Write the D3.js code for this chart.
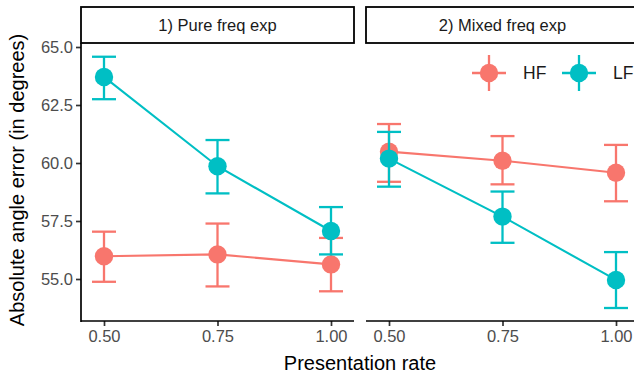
<!DOCTYPE html>
<html>
<head>
<meta charset="utf-8">
<script src="https://cdn.jsdelivr.net/npm/d3@7/dist/d3.min.js"></script>
<style>
  body { margin: 0; background: #fff; }
  text { font-family: "Liberation Sans", Arial, sans-serif; }
</style>
</head>
<body>
<div id="chart"></div>
<script>
// data
const panels = ["1) Pure freq exp", "2) Mixed freq exp"];
const rates = [0.5, 0.75, 1.0];
const groups = ["HF", "LF"];
const yTicks = [55.0, 57.5, 60.0, 62.5, 65.0];

// means and error bars per panel, per group
const pureHF = [55.98, 56.06, 55.63];
const pureHFlo = [54.88, 54.68, 54.47];
const pureHFhi = [57.04, 57.39, 56.77];
const pureLF = [63.71, 59.86, 57.07];
const pureLFlo = [62.75, 58.69, 56.06];
const pureLFhi = [64.58, 60.99, 58.10];

const mixHF = [60.49, 60.10, 59.58];
const mixHFlo = [59.19, 59.08, 58.35];
const mixHFhi = [61.68, 61.16, 60.78];
const mixLF = [60.19, 57.69, 54.96];
const mixLFlo = [58.98, 56.56, 53.75];
const mixLFhi = [61.34, 58.77, 56.16];

const colors = { HF: "#F8766D", LF: "#00BFC4" };

function rows(means, lo, hi) {
  return rates.map((r, i) => ({ x: r, y: means[i], lo: lo[i], hi: hi[i] }));
}
const panelData = [
  { HF: rows(pureHF, pureHFlo, pureHFhi), LF: rows(pureLF, pureLFlo, pureLFhi) },
  { HF: rows(mixHF, mixHFlo, mixHFhi), LF: rows(mixLF, mixLFlo, mixLFhi) }
];

const W = 634, H = 376;
const panelLeft = [81, 366];
const panelW = 273;
const panelTop = 43, panelBottom = 321;

const svg = d3.select("#chart").append("svg")
  .attr("width", W).attr("height", H);

const y = d3.scaleLinear().domain([55, 65]).range([279, 47]);
const x = d3.scaleLinear().domain([0.5, 1]).range([23, 250]);

// y axis (left panel only)
const yAxis = svg.append("g")
  .attr("transform", `translate(${panelLeft[0]},0)`)
  .call(d3.axisLeft(y).tickValues(yTicks).tickFormat(d3.format(".1f")).tickSize(5).tickPadding(3));
yAxis.select(".domain").remove();
yAxis.append("line").attr("x1", 0).attr("x2", 0)
  .attr("y1", panelTop).attr("y2", panelBottom + 1)
  .attr("stroke", "#000").attr("stroke-width", 1.7);
yAxis.selectAll(".tick line").attr("stroke", "#333").attr("stroke-width", 1.7);
yAxis.selectAll(".tick text").attr("fill", "#4D4D4D").style("font-size", "16.5px");

panels.forEach((name, pi) => {
  const g = svg.append("g").attr("transform", `translate(${panelLeft[pi]},0)`);

  // strip
  g.append("rect").attr("x", 0).attr("y", 7).attr("width", panelW).attr("height", 36)
    .attr("fill", "#fff").attr("stroke", "#000").attr("stroke-width", 1.8);
  g.append("text").attr("x", panelW / 2).attr("y", 31)
    .attr("text-anchor", "middle").attr("fill", "#1A1A1A")
    .style("font-size", "16.5px").text(name);

  // x axis
  const xa = g.append("g").attr("transform", `translate(0,${panelBottom})`)
    .call(d3.axisBottom(x).tickValues(rates).tickFormat(d3.format(".2f")).tickSize(5).tickPadding(4));
  xa.select(".domain").remove();
  xa.append("line").attr("x1", 0).attr("x2", panelW).attr("y1", 0).attr("y2", 0)
    .attr("stroke", "#000").attr("stroke-width", 1.7);
  xa.selectAll(".tick line").attr("stroke", "#333").attr("stroke-width", 1.7);
  xa.selectAll(".tick text").attr("fill", "#4D4D4D").style("font-size", "16.5px");

  const line = d3.line().x(d => x(d.x)).y(d => y(d.y));

  groups.forEach(grp => {
    const data = panelData[pi][grp];
    const c = colors[grp];
    // error bars: stem and caps
    const eb = g.append("g").attr("stroke", c).attr("stroke-width", 2.3);
    eb.selectAll("line.v").data(data).join("line")
      .attr("x1", d => x(d.x)).attr("x2", d => x(d.x))
      .attr("y1", d => y(d.lo)).attr("y2", d => y(d.hi));
    const caps = data.flatMap(d => [{ x: d.x, v: d.lo }, { x: d.x, v: d.hi }]);
    eb.selectAll("line.cap").data(caps).join("line")
      .attr("x1", d => x(d.x) - 12).attr("x2", d => x(d.x) + 12)
      .attr("y1", d => y(d.v)).attr("y2", d => y(d.v));
    g.append("path").datum(data).attr("d", line)
      .attr("fill", "none").attr("stroke", c).attr("stroke-width", 2.1);
    g.append("g").selectAll("circle").data(data).join("circle")
      .attr("cx", d => x(d.x)).attr("cy", d => y(d.y)).attr("r", 9.2)
      .attr("fill", c);
  });
});

// legend inside panel 2
const legendX = [489, 579];
groups.forEach((grp, i) => {
  const lg = svg.append("g").attr("transform", `translate(${legendX[i]},73)`);
  const c = colors[grp];
  lg.append("line").attr("x1", -17).attr("x2", 17).attr("y1", 0).attr("y2", 0)
    .attr("stroke", c).attr("stroke-width", 2.3);
  lg.append("line").attr("x1", 0).attr("x2", 0).attr("y1", -18).attr("y2", 18)
    .attr("stroke", c).attr("stroke-width", 2.3);
  lg.append("circle").attr("r", 9.2).attr("fill", c);
  lg.append("text").attr("x", 34).attr("y", 6)
    .attr("fill", "#1A1A1A").style("font-size", "17.5px").text(grp);
});

// axis titles
svg.append("text").attr("x", 360).attr("y", 370).attr("text-anchor", "middle")
  .attr("fill", "#000").style("font-size", "20px").text("Presentation rate");
svg.append("text").attr("transform", "translate(24,180) rotate(-90)")
  .attr("text-anchor", "middle").attr("fill", "#000")
  .style("font-size", "20px").text("Absolute angle error (in degrees)");
</script>
</body>
</html>
